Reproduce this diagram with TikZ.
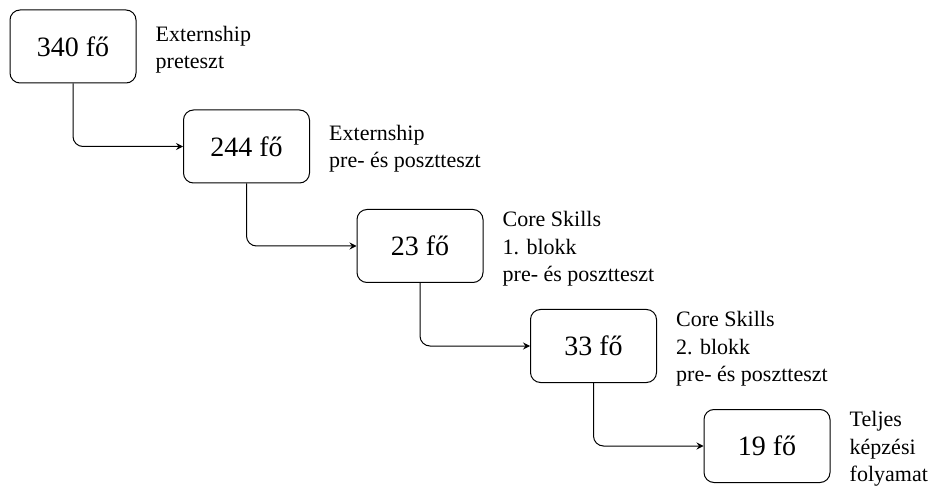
\documentclass[tikz,border=0pt]{standalone}
\usepackage{fontspec}
\setmainfont{Liberation Serif}
\usetikzlibrary{arrows.meta}
\begin{document}
\begin{tikzpicture}[x=1pt,y=1pt,
  box/.style={draw, line width=1pt, rounded corners=10pt, minimum width=126pt, minimum height=73pt, inner sep=0pt, font=\fontsize{28}{33}\selectfont},
  lbl/.style={anchor=west, align=left, inner sep=0pt, font=\fontsize{22}{27.5}\selectfont},
  conn/.style={line width=1pt, rounded corners=10pt, -{Stealth[length=7pt,width=7pt,inset=2.5pt]}}]
\useasboundingbox (0,0) rectangle (929,-486);
\node[box] (b1) at (73,-46.5) {340 fő};
\node[box] (b2) at (246.5,-146.5) {244 fő};
\node[box] (b3) at (420,-246) {23 fő};
\node[box] (b4) at (593.5,-346) {33 fő};
\node[box] (b5) at (767,-446) {19 fő};
\node[lbl] (l1) at ([xshift=19pt,yshift=-3pt]b1.east) {Externship\\preteszt};
\node[lbl] (l2) at ([xshift=19pt,yshift=-2pt]b2.east) {Externship\\pre- és posztteszt};
\node[lbl] (l3) at ([xshift=19pt,yshift=-3pt]b3.east) {Core Skills\\1. blokk\\pre- és posztteszt};
\node[lbl] (l4) at ([xshift=19pt,yshift=-3pt]b4.east) {Core Skills\\2. blokk\\pre- és posztteszt};
\node[lbl] (l5) at ([xshift=19pt,yshift=-3pt]b5.east) {Teljes\\képzési\\folyamat};
\draw[conn] (b1.south) |- (b2.west);
\draw[conn] (b2.south) |- (b3.west);
\draw[conn] (b3.south) |- (b4.west);
\draw[conn] (b4.south) |- (b5.west);
\end{tikzpicture}
\end{document}
